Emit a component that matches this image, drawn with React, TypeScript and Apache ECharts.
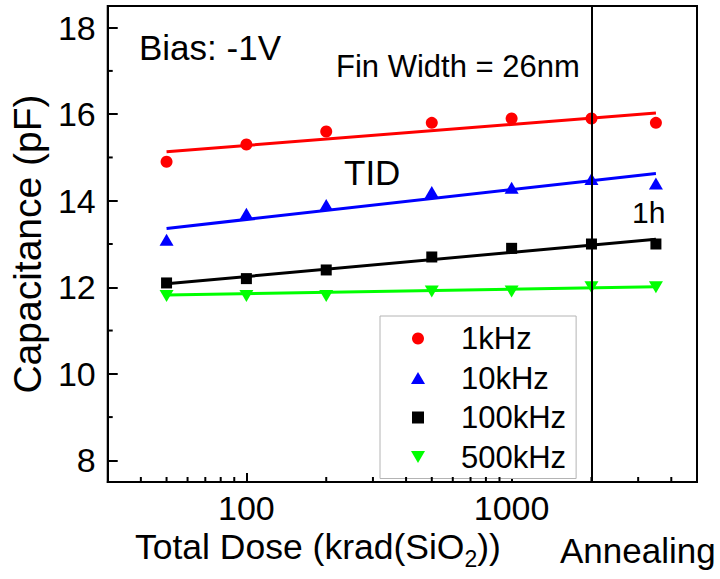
import React, { useEffect, useRef } from 'react';
import * as echarts from 'echarts';

const FONT = 'Arial, "Liberation Sans", Helvetica, sans-serif';

// Data
const doseX = [50, 100, 200, 500, 1000, 2000, 3500];
const cap1kHz = [14.9, 15.3, 15.6, 15.8, 15.9, 15.9, 15.8];
const cap10kHz = [13.1, 13.7, 13.9, 14.2, 14.3, 14.5, 14.4];
const cap100kHz = [12.1, 12.2, 12.4, 12.7, 12.9, 13.0, 13.0];
const cap500kHz = [11.8, 11.8, 11.8, 11.9, 11.9, 12.0, 12.0];

// Linear-fit lines (end points)
const fitX = [50, 3500];
const fit1kHz = [15.13, 16.03];
const fit10kHz = [13.36, 14.63];
const fit100kHz = [12.08, 13.11];
const fit500kHz = [11.82, 12.01];

const annealStart = 2000;
const xMin = 30;
const xMax = 5000;
const yMin = 7.5;
const yMax = 18.5;
const xMajorLabels = [100, 1000];
const xMinorTicks = [40, 50, 60, 70, 80, 90, 200, 300, 400, 500, 600, 700, 800, 900, 2000, 3000, 4000];
const yMinorTicks = [9, 11, 13, 15, 17];

const seriesNames = ['1kHz', '10kHz', '100kHz', '500kHz'];
const seriesColors = ['#ff0000', '#0000ff', '#000000', '#00ff00'];
const seriesValues = [cap1kHz, cap10kHz, cap100kHz, cap500kHz];
const fitValues = [fit1kHz, fit10kHz, fit100kHz, fit500kHz];
const seriesSymbols = ['circle', 'triangle', 'rect', 'path://M0,0L14,0L7,12Z'];
const seriesSymbolSizes: any[] = [12, [14, 12], 11, [14, 12]];
const legendIcons = [
  'circle',
  'path://M7,0L14,12L0,12Z',
  'path://M0,0L10,0L10,10L0,10Z',
  'path://M0,0L14,0L7,12Z',
];

export default function App() {
  const ref = useRef<HTMLDivElement>(null);

  useEffect(() => {
    if (!ref.current) return;
    const chart = echarts.init(ref.current, undefined, { renderer: 'svg' });

    const fitSeries = fitValues.map((vals, i) => ({
      type: 'line',
      name: seriesNames[i] + ' fit',
      data: fitX.map((x, k) => [x, vals[k]]),
      symbol: 'none',
      lineStyle: { color: seriesColors[i], width: 3 },
      itemStyle: { color: seriesColors[i] },
      silent: true,
      z: 3,
    }));

    const scatterSeries = seriesValues.map((vals, i) => {
      const s: any = {
        type: 'scatter',
        name: seriesNames[i],
        data: doseX.map((x, k) => [x, vals[k]]),
        symbol: seriesSymbols[i],
        symbolSize: seriesSymbolSizes[i],
        itemStyle: { color: seriesColors[i], opacity: 1 },
        z: 4,
      };
      if (i === 0) {
        s.markLine = {
          silent: true,
          symbol: 'none',
          label: { show: false },
          lineStyle: { color: '#000', width: 2, type: 'solid' },
          data: [{ xAxis: annealStart }],
        };
      }
      return s;
    });

    const xMinorSeries = {
      type: 'custom',
      name: 'xMinorTicks',
      silent: true,
      clip: false,
      z: 6,
      data: xMinorTicks.map((v) => [v, yMin]),
      renderItem: (_p: any, api: any) => {
        const pt = api.coord([api.value(0), api.value(1)]);
        return {
          type: 'line',
          shape: { x1: pt[0], y1: pt[1], x2: pt[0], y2: pt[1] - 5 },
          style: { stroke: '#000', lineWidth: 2 },
        };
      },
    };

    const yMinorSeries = {
      type: 'custom',
      name: 'yMinorTicks',
      silent: true,
      clip: false,
      z: 6,
      data: yMinorTicks.map((v) => [xMin, v]),
      renderItem: (_p: any, api: any) => {
        const pt = api.coord([api.value(0), api.value(1)]);
        return {
          type: 'line',
          shape: { x1: pt[0], y1: pt[1], x2: pt[0] + 5, y2: pt[1] },
          style: { stroke: '#000', lineWidth: 2 },
        };
      },
    };

    const option: any = {
      animation: false,
      backgroundColor: '#ffffff',
      grid: {
        left: 106,
        right: 23,
        top: 6,
        bottom: 97,
        show: true,
        borderColor: '#000',
        borderWidth: 2,
        backgroundColor: 'transparent',
      },
      xAxis: {
        type: 'log',
        logBase: 10,
        min: xMin,
        max: xMax,
        axisLine: { lineStyle: { color: '#000', width: 2 } },
        axisTick: { inside: true, length: 9, lineStyle: { color: '#000', width: 2 } },
        minorTick: { show: false },
        splitLine: { show: false },
        axisLabel: {
          margin: 9,
          color: '#000',
          fontSize: 34,
          fontFamily: FONT,
          formatter: (v: number) => {
            const r = Math.round(v);
            return xMajorLabels.indexOf(r) >= 0 ? String(r) : '';
          },
        },
      },
      yAxis: {
        type: 'value',
        min: yMin,
        max: yMax,
        splitNumber: 5,
        name: 'Capacitance (pF)',
        nameLocation: 'middle',
        nameGap: 55,
        nameTextStyle: { fontSize: 39, color: '#000', fontFamily: FONT },
        axisLine: { lineStyle: { color: '#000', width: 2 } },
        axisTick: { inside: true, length: 10, lineStyle: { color: '#000', width: 2 } },
        splitLine: { show: false },
        axisLabel: {
          margin: 12,
          color: '#000',
          fontSize: 34,
          fontFamily: FONT,
          formatter: (v: number) => (Math.abs(v - Math.round(v)) < 1e-9 ? String(Math.round(v)) : ''),
        },
      },
      legend: {
        orient: 'vertical',
        left: 380,
        top: 316,
        padding: [7, 10, 6, 31],
        itemGap: 8.5,
        itemWidth: 76,
        itemHeight: 12,
        backgroundColor: '#fff',
        borderColor: '#b4b4b4',
        borderWidth: 1,
        symbolRotate: 0,
        textStyle: { fontSize: 31, color: '#000', fontFamily: FONT },
        data: seriesNames.map((n, i) => ({ name: n, icon: legendIcons[i] })),
      },
      graphic: [
        {
          type: 'text',
          x: 139,
          y: 47,
          style: { text: 'Bias: -1V', fontSize: 35, fontFamily: FONT, fill: '#000', align: 'left', verticalAlign: 'middle' },
        },
        {
          type: 'text',
          x: 336,
          y: 66,
          style: { text: 'Fin Width = 26nm', fontSize: 31, fontFamily: FONT, fill: '#000', align: 'left', verticalAlign: 'middle' },
        },
        {
          type: 'text',
          x: 344,
          y: 172.5,
          style: { text: 'TID', fontSize: 35, fontFamily: FONT, fill: '#000', align: 'left', verticalAlign: 'middle' },
        },
        {
          type: 'text',
          x: 632,
          y: 212,
          style: { text: '1h', fontSize: 30, fontFamily: FONT, fill: '#000', align: 'left', verticalAlign: 'middle' },
        },
        {
          type: 'text',
          x: 135,
          y: 547,
          style: {
            text: '{a|Total Dose (krad(SiO}{b|2}{a|))}',
            fill: '#000',
            align: 'left',
            verticalAlign: 'middle',
            rich: {
              a: { fontSize: 35.5, fontFamily: FONT, lineHeight: 46, verticalAlign: 'middle', fill: '#000' },
              b: { fontSize: 23, fontFamily: FONT, lineHeight: 23, verticalAlign: 'bottom', fill: '#000' },
            },
          },
        },
        {
          type: 'text',
          x: 560,
          y: 550,
          style: { text: 'Annealing', fontSize: 35, fontFamily: FONT, fill: '#000', align: 'left', verticalAlign: 'middle' },
        },
      ],
      series: [...fitSeries, ...scatterSeries, xMinorSeries, yMinorSeries],
    };

    chart.setOption(option);
    return () => {
      chart.dispose();
    };
  }, []);

  return (
    <div
      ref={ref}
      style={{ position: 'fixed', left: 0, top: 0, width: 720, height: 579, background: '#fff' }}
    />
  );
}
